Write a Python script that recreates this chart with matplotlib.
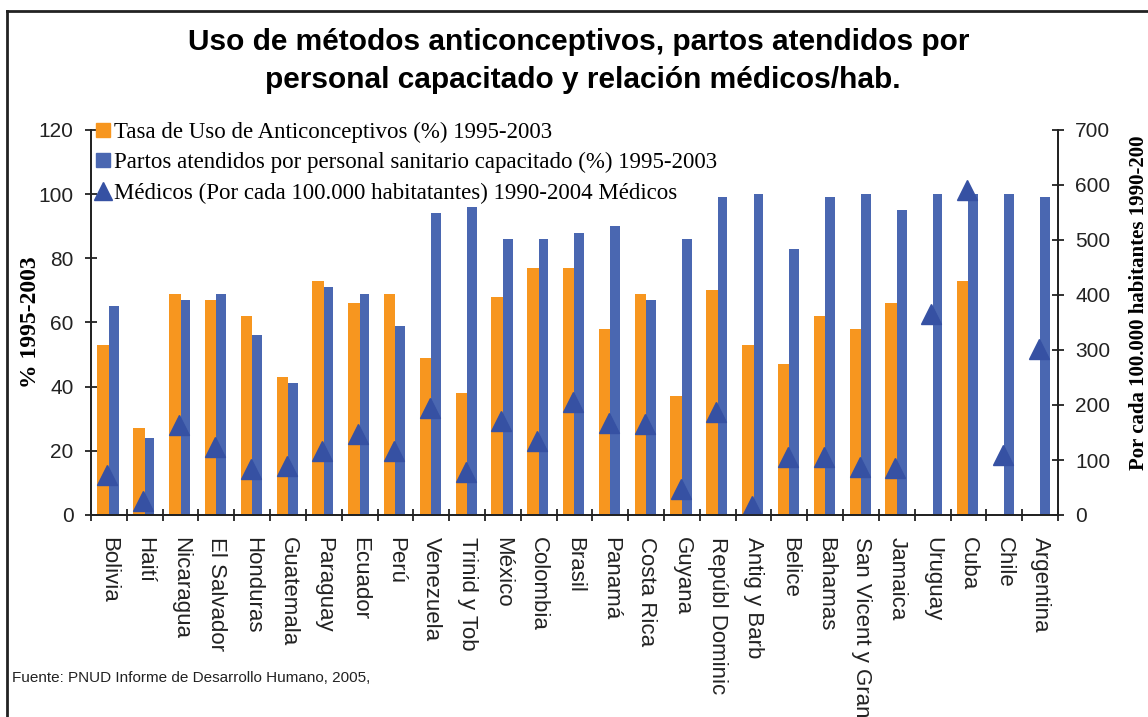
import numpy as np
import matplotlib.pyplot as plt
import matplotlib.transforms as mtransforms
from matplotlib.lines import Line2D

paises = ["Bolivia", "Haití", "Nicaragua", "El Salvador", "Honduras", "Guatemala",
          "Paraguay", "Ecuador", "Perú", "Venezuela", "Trinid y Tob", "México",
          "Colombia", "Brasil", "Panamá", "Costa Rica", "Guyana", "Repúbl Dominic",
          "Antig y Barb", "Belice", "Bahamas", "San Vicent y Gran", "Jamaica",
          "Uruguay", "Cuba", "Chile", "Argentina"]

# tasa de uso de anticonceptivos (%) - sin dato = nan
anticonceptivos = [53, 27, 69, 67, 62, 43, 73, 66, 69, 49, 38, 68, 77, 77, 58, 69,
                   37, 70, 53, 47, 62, 58, 66, np.nan, 73, np.nan, np.nan]
# partos atendidos por personal capacitado (%)
partos = [65, 24, 67, 69, 56, 41, 71, 69, 59, 94, 96, 86, 86, 88, 90, 67,
          86, 99, 100, 83, 99, 100, 95, 100, 100, 100, 99]
# medicos por 100.000 hab
medicos = [73, 25, 164, 124, 83, 90, 117, 148, 117, 194, 79, 171, 135, 206, 168, 166,
           48, 188, 17, 105, 106, 87, 85, 365, 591, 109, 301]

naranja = '#F7961F'
azul = '#4A67B1'
azul_osc = '#3651A3'

fig = plt.figure(figsize=(11.48, 7.17), dpi=100)
ax = fig.add_axes([91 / 1148, 202 / 717, 967 / 1148, 385 / 717])
ax2 = ax.twinx()

x = np.arange(len(paises))
ax.bar(x, anticonceptivos, width=-0.32, align='edge', color=naranja)
ax.bar(x, partos, width=0.27, align='edge', color=azul)
ax.set_xlim(-0.5, len(paises) - 0.5)
ax.set_ylim(0, 120)
ax.set_yticks(range(0, 121, 20))

ax2.plot(x - 0.04, medicos, linestyle='none', marker='^', markersize=15, color=azul_osc)
ax2.set_ylim(0, 700)
ax2.set_yticks(range(0, 701, 100))

for a in (ax, ax2):
    a.spines['top'].set_visible(False)
    for s in a.spines.values():
        s.set_linewidth(1.3)
        s.set_color('#222222')
    a.tick_params(axis='y', direction='inout', length=9, width=1.3, labelsize=15,
                  colors='#222222', pad=8)
    for lab in a.get_yticklabels():
        lab.set_fontfamily('Liberation Sans')

ax.set_xticks(x)
ax.set_xticklabels(paises, rotation=-90, fontsize=16, fontfamily='Liberation Sans',
                   va='top', ha='center', color='#222222')
desplaz = mtransforms.ScaledTranslation(-4 / 100, 0, fig.dpi_scale_trans)
for lab in ax.get_xticklabels():
    lab.set_transform(lab.get_transform() + desplaz)
ax.set_xticks(np.arange(-0.5, len(paises), 1), minor=True)
ax.tick_params(axis='x', which='major', length=0, pad=16)
ax.tick_params(axis='x', which='minor', direction='inout', length=9, width=1.3,
               colors='#222222')

ax.set_ylabel('% 1995-2003', fontsize=17, fontweight='bold', fontfamily='Liberation Serif')
ax.yaxis.set_label_coords(-0.052, 0.5)
ax2.set_ylabel('Por cada 100.000 habitantes 1990-200', fontsize=15, fontweight='bold',
               fontfamily='Liberation Serif', rotation=90)
ax2.yaxis.set_label_coords(1.073, 0.55)

handles = [Line2D([], [], linestyle='none', marker='s', markersize=10, color=naranja),
           Line2D([], [], linestyle='none', marker='s', markersize=10, color=azul),
           Line2D([], [], linestyle='none', marker='^', markersize=13, color=azul_osc)]
labels = ['Tasa de Uso de Anticonceptivos (%) 1995-2003',
          'Partos atendidos por personal sanitario capacitado (%) 1995-2003',
          'Médicos (Por cada 100.000 habitatantes) 1990-2004 Médicos']
ax2.legend(handles, labels, loc='upper left', bbox_to_anchor=(-0.016, 1.075),
           frameon=False, handlelength=0.6, handletextpad=0.2, labelspacing=0.4,
           prop={'family': 'Liberation Serif', 'size': 16.5})

fig.text(579 / 1148, 1 - 42 / 717, 'Uso de métodos anticonceptivos, partos atendidos por',
         ha='center', va='center', fontsize=21.5, fontweight='bold', fontfamily='Liberation Sans')
fig.text(583 / 1148, 1 - 80 / 717, 'personal capacitado y relación médicos/hab.',
         ha='center', va='center', fontsize=21.5, fontweight='bold', fontfamily='Liberation Sans')
fig.text(12 / 1148, 1 - 678 / 717, 'Fuente: PNUD Informe de Desarrollo Humano, 2005,',
         ha='left', va='center', fontsize=11, fontfamily='Liberation Sans', color='#222222')

# marco del grafico
fig.add_artist(Line2D([7 / 1148, 7 / 1148], [0, 1 - 11 / 717], color='#222222', lw=2))
fig.add_artist(Line2D([7 / 1148, 1], [1 - 11 / 717, 1 - 11 / 717], color='#222222', lw=2))

fig.savefig('out.png', dpi=100)
